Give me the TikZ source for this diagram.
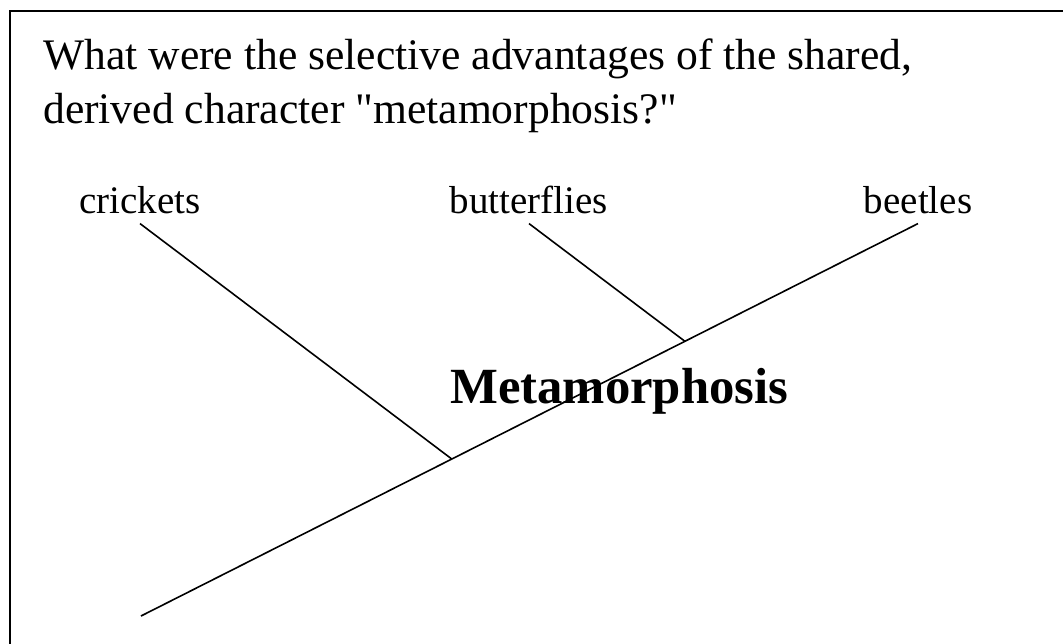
\documentclass[tikz,border=0pt]{standalone}
\usepackage{fontspec}
\setmainfont{Liberation Serif}[Ligatures=TeXOff]
\usetikzlibrary{calc}

\begin{document}
\begin{tikzpicture}[
	x=1pt, y=-1pt,
	every node/.style={inner sep=0pt},
	title/.style={anchor=north west, align=left, font=\fontsize{43.6}{54}\selectfont},
	taxon/.style={anchor=base, inner ysep=10pt, font=\fontsize{39}{47}\selectfont},
	trait/.style={anchor=base west, font=\fontsize{50.7}{61}\selectfont\bfseries},
	branch/.style={line width=1.6pt}
]
\useasboundingbox (0,0) rectangle (1063,643);
\clip (0,0) rectangle (1063,643);

% slide frame, runs off the right and bottom edge
\draw[line width=2pt] (10,700) |- (1100,11);

% question
\node[title] (question) at (43,39) {What were the selective advantages of the shared,\\ derived character "metamorphosis?"};

% taxa
\node[taxon] (crickets) at (140,213) {crickets};
\node[taxon] (butterflies) at (529,213) {butterflies};
\node[taxon] (beetles) at (918,213) {beetles};

% root and branch points on the main line
\coordinate (root) at (141,616);
\coordinate (j1) at ($(root)!0.4!(beetles.south)$);
\coordinate (j2) at ($(root)!0.7!(beetles.south)$);

% cladogram
\draw[branch] (root) -- (beetles.south);
\draw[branch] (crickets.south) -- (j1);
\draw[branch] (butterflies.south) -- (j2);

% shared derived character
\node[trait] (trait) at (450,403) {Metamorphosis};

\end{tikzpicture}
\end{document}
